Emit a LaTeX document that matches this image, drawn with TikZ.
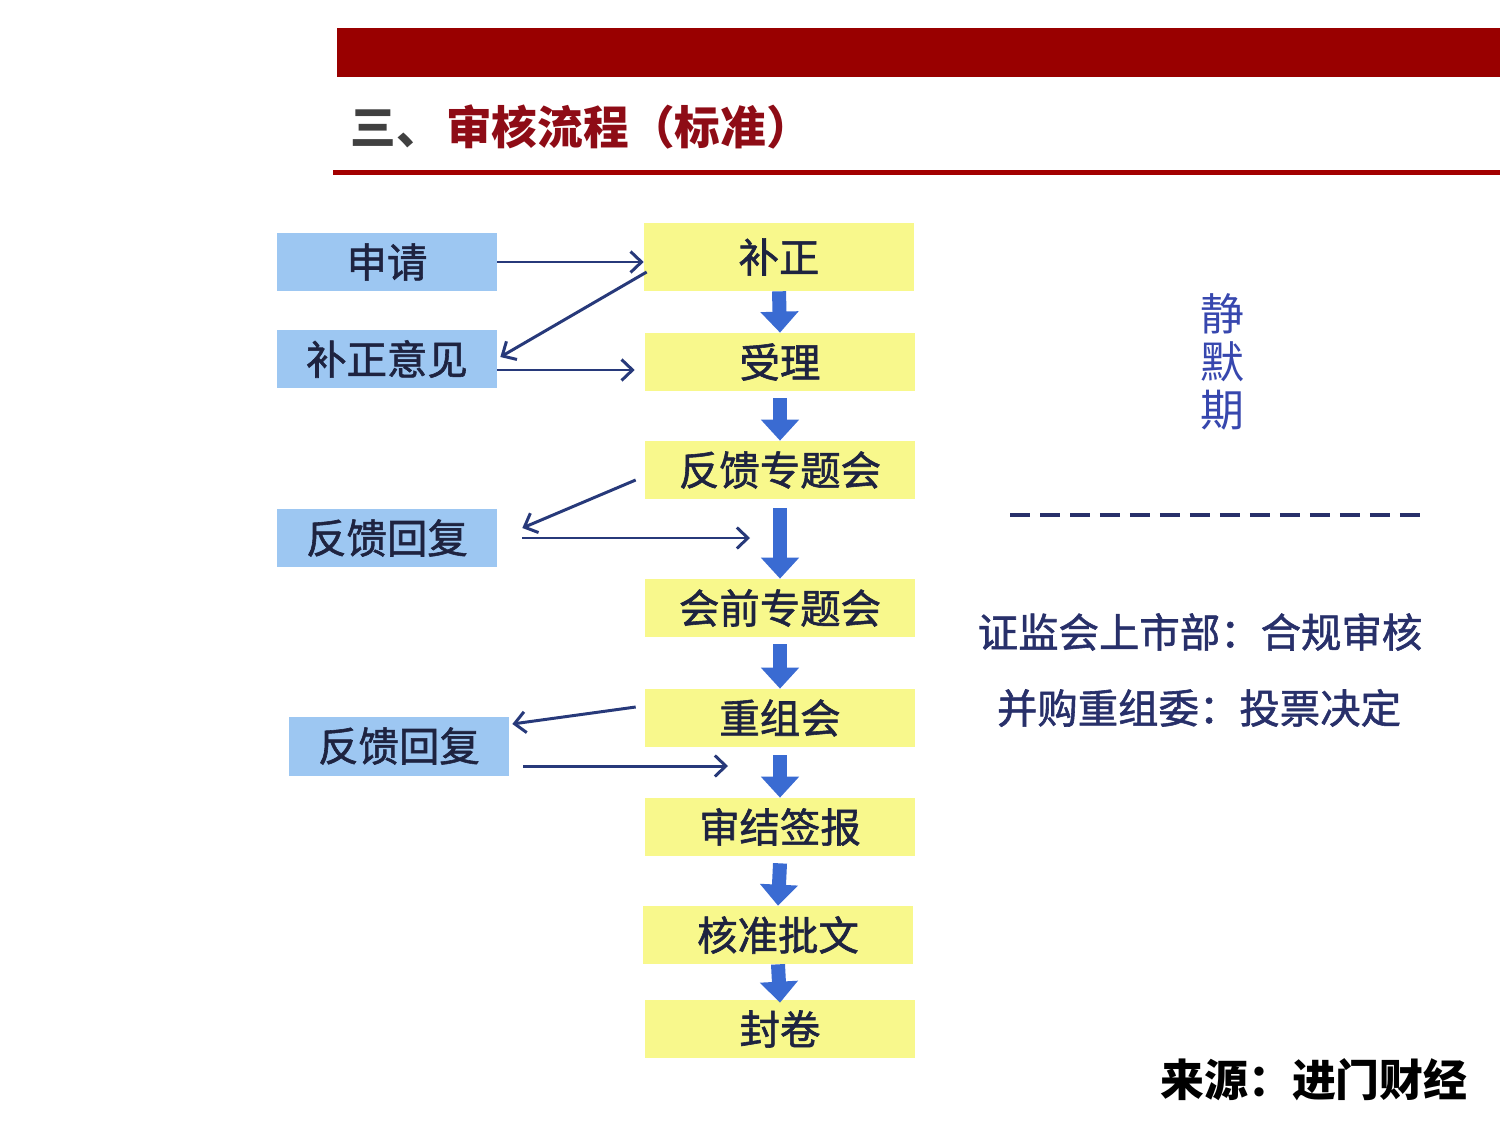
\documentclass[tikz,border=0pt]{standalone}
\usepackage{fontspec}
\setmainfont{Noto Sans CJK SC}
\newfontfamily\cjkmid{Noto Sans CJK SC}[FakeBold=1.4]
\usetikzlibrary{arrows.meta, calc, positioning}

\definecolor{barred}{HTML}{990000}
\definecolor{titlered}{HTML}{8E0C16}
\definecolor{flowyellow}{HTML}{F8F88C}
\definecolor{sideblue}{HTML}{9DC7F2}
\definecolor{inknavy}{HTML}{1E2340}
\definecolor{linknavy}{HTML}{27397A}
\definecolor{fatblue}{HTML}{3A6BD2}
\definecolor{quietblue}{HTML}{3747AE}
\definecolor{notenavy}{HTML}{28306A}

\tikzset{
    boxtext/.style={font=\cjkmid\fontsize{23}{23}\selectfont, text=inknavy},
    flowbox/.style={boxtext, fill=flowyellow, minimum width=5.4cm, minimum height=1.16cm, inner sep=0pt},
    sidebox/.style={boxtext, fill=sideblue, minimum width=4.4cm, minimum height=1.18cm, inner sep=0pt},
    backarrow/.style={draw=linknavy, line width=1.7pt, -{Straight Barb[length=2.2mm, width=4.2mm]}},
    fatarrow/.style={draw=fatblue, line width=0.28cm, -{Triangle[length=0.42cm, width=0.74cm]}}
}

\begin{document}
\begin{tikzpicture}[x=0.02cm, y=-0.02cm]
    \useasboundingbox (0,0) rectangle (1500,1125);

    % header
    \fill[barred] (337,28) rectangle (1500,77);
    \fill[barred!90!red] (333,170) rectangle (1500,175);
    \node[anchor=west, inner sep=0pt, font=\fontsize{26}{26}\selectfont\bfseries] (title) at (350,127)
        {\textcolor{black!75}{三、}\hspace{0.1em}\textcolor{titlered}{审核流程（标准）}};

    % main flow
    \node[flowbox, minimum height=1.36cm] (buzheng) at (779,257) {补正};
    \node[flowbox] (shouli) at (780,362) {受理};
    \node[flowbox] (fkzt) at (780,470) {反馈专题会};
    \node[flowbox] (hqzt) at (780,608) {会前专题会};
    \node[flowbox] (chongzu) at (780,718) {重组会};
    \node[flowbox] (shenjie) at (780,827) {审结签报};
    \node[flowbox] (hezhun) at (778,935) {核准批文};
    \node[flowbox] (fengjuan) at (780,1029) {封卷};

    \draw[fatarrow] (buzheng.south) -- (shouli.north);
    \draw[fatarrow] ([yshift=-0.14cm]shouli.south) -- (fkzt.north);
    \draw[fatarrow] ([yshift=-0.18cm]fkzt.south) -- (hqzt.north);
    \draw[fatarrow] ([yshift=-0.14cm]hqzt.south) -- (chongzu.north);
    \draw[fatarrow] ([yshift=-0.16cm]chongzu.south) -- (shenjie.north);
    \draw[fatarrow] ([yshift=-0.14cm]shenjie.south) -- (hezhun.north);
    \draw[fatarrow] (hezhun.south) -- ([yshift=-0.06cm]fengjuan.north);

    % side boxes
    \node[sidebox] (shenqing) at (387,262) {申请};
    \node[sidebox] (bzyj) at (387,359) {补正意见};
    \node[sidebox] (fkhf) at (387,538) {反馈回复};
    \node[sidebox] (fkhfb) at (399,746) {反馈回复};

    \coordinate (rejoin) at (750,538);
    \coordinate (rejoinb) at (728,766);

    \draw[backarrow] (shenqing.east) -- (shenqing.east -| buzheng.west);
    \draw[backarrow] ($(buzheng.west)+(3,15)$) -- ($(bzyj.east)+(3,-2)$);
    \draw[backarrow] ($(bzyj.east)+(0,11)$) -- ($(shouli.west)+(-10,8)$);
    \draw[backarrow] ($(fkzt.west)+(-9,10)$) -- ($(fkhf.east)+(25,-10)$);
    \draw[backarrow] ($(fkhf.east)+(25,0)$) -- (rejoin);
    \draw[backarrow] ($(chongzu.west)+(-9,-11)$) -- ($(fkhfb.east)+(3,-22)$);
    \draw[backarrow] ($(fkhfb.east)+(14,20)$) -- (rejoinb);

    % right column
    \node[align=center, inner sep=0pt, text=quietblue, font=\fontsize{25}{27.5}\selectfont] (quiet) at (1222,362) {静\\默\\期};
    \draw[notenavy, line width=2.2pt, dash pattern=on 0.4cm off 0.2cm] (1010,515) -- (1425,515);
    \node[inner sep=0pt, text=notenavy, font=\cjkmid\fontsize{23}{23}\selectfont] (csrc) at (1200,632) {证监会上市部：合规审核};
    \node[inner sep=0pt, text=notenavy, font=\cjkmid\fontsize{23}{23}\selectfont] (mna) at (1199,708) {并购重组委：投票决定};

    \node[inner sep=0pt, font=\fontsize{25}{25}\selectfont\bfseries] (source) at (1314,1080) {来源：进门财经};
\end{tikzpicture}
\end{document}
